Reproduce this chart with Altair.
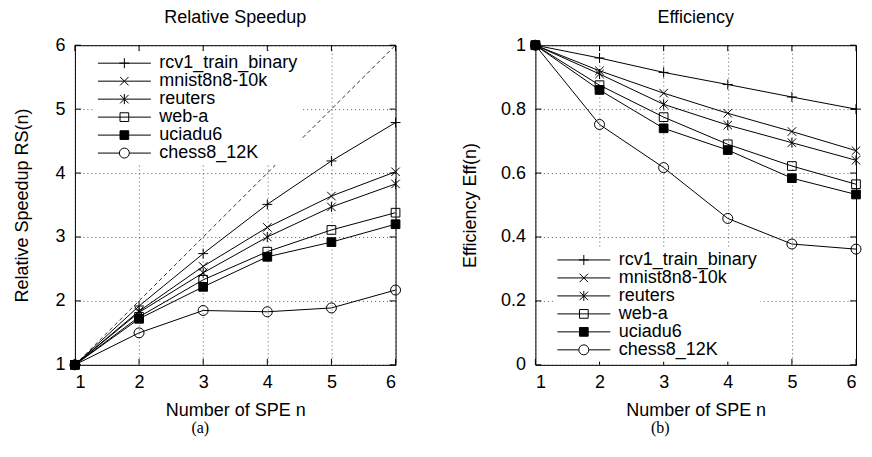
import altair as alt
import pandas as pd

n_spe = [1, 2, 3, 4, 5, 6]
series = ["rcv1_train_binary", "mnist8n8-10k", "reuters", "web-a", "uciadu6", "chess8_12K"]

# Relative speedup RS(n)
rs_rcv1 = [1.0, 1.92, 2.74, 3.51, 4.19, 4.79]
rs_mnist = [1.0, 1.84, 2.54, 3.15, 3.64, 4.02]
rs_reuters = [1.0, 1.82, 2.44, 3.00, 3.47, 3.83]
rs_weba = [1.0, 1.75, 2.33, 2.77, 3.11, 3.38]
rs_uciadu6 = [1.0, 1.72, 2.22, 2.69, 2.92, 3.20]
rs_chess = [1.0, 1.50, 1.85, 1.83, 1.89, 2.17]

# Efficiency Eff(n)
eff_rcv1 = [1.0, 0.96, 0.915, 0.877, 0.838, 0.80]
eff_mnist = [1.0, 0.92, 0.85, 0.787, 0.73, 0.67]
eff_reuters = [1.0, 0.91, 0.815, 0.75, 0.695, 0.64]
eff_weba = [1.0, 0.875, 0.775, 0.69, 0.622, 0.565]
eff_uciadu6 = [1.0, 0.86, 0.74, 0.672, 0.584, 0.533]
eff_chess = [1.0, 0.752, 0.617, 0.458, 0.378, 0.362]

ideal_x = [1, 6]
ideal_y = [1, 6]

rs_ticks = [1, 2, 3, 4, 5, 6]
eff_ticks = [0, 0.2, 0.4, 0.6, 0.8, 1.0]

FONT = "Liberation Sans"
W, H = 321, 320
TICK = 6


def long_df(arrays):
    rows = []
    for name, vals in zip(series, arrays):
        for n, v in zip(n_spe, vals):
            rows.append({"n": n, "value": v, "series": name})
    return pd.DataFrame(rows)


rs_df = long_df([rs_rcv1, rs_mnist, rs_reuters, rs_weba, rs_uciadu6, rs_chess])
eff_df = long_df([eff_rcv1, eff_mnist, eff_reuters, eff_weba, eff_uciadu6, eff_chess])
ideal_df = pd.DataFrame({"n": ideal_x, "value": ideal_y})

plus = "M-1,0H1M0,-1V1"
cross = "M-0.85,-0.85L0.85,0.85M-0.85,0.85L0.85,-0.85"
star = "M0,-1V1M-0.85,-0.85L0.85,0.85M-0.85,0.85L0.85,-0.85"
square = "M-0.87,-0.87H0.87V0.87H-0.87Z"
circle = "M-1,0A1,1,0,1,1,1,0A1,1,0,1,1,-1,0Z"
point_shapes = [plus, cross, star, square, square, circle]

line = "M-5.3,0H5.3"
legend_shapes = [
    line + plus,
    line + cross,
    line + star,
    line + square,
    line + square,
    "M-5.3,0H-1M1,0H5.3" + circle,
]
fills = ["transparent", "transparent", "transparent", "transparent", "black", "transparent"]
strokes = ["black"] * 6


def panel(df, ytitle, ydomain, yticks, yfmt, title_pad, title, caption, cap_dx, lx, ly, diag):
    x = alt.X("n:Q", scale=alt.Scale(domain=[1, 6], nice=False, zero=False),
              axis=alt.Axis(values=n_spe, format="d", title="Number of SPE n",
                            titlePadding=10, labelPadding=9))
    y = alt.Y("value:Q", scale=alt.Scale(domain=ydomain, nice=False, zero=False),
              axis=alt.Axis(values=yticks, format=yfmt, title=ytitle, titlePadding=title_pad,
                            labelPadding=10))
    base = alt.Chart(df)
    lines = base.mark_line(color="black", strokeWidth=1).encode(x=x, y=y, detail="series:N")
    pts = base.mark_point(size=100, strokeWidth=1, color="black", opacity=1).encode(
        x=x, y=y,
        shape=alt.Shape("series:N", scale=alt.Scale(domain=series, range=point_shapes), legend=None),
        fill=alt.Fill("series:N", scale=alt.Scale(domain=series, range=fills), legend=None),
    )
    leg = alt.Legend(
        title=None, orient="none", legendX=lx, legendY=ly,
        fillColor="white", padding=3,
        labelFont=FONT, labelFontSize=18, labelColor="black",
        symbolSize=100, symbolStrokeWidth=1, symbolStrokeColor="black",
        symbolOffset=18.5, labelOffset=26, rowPadding=0,
        labelLimit=300,
    )
    legend_layer = base.transform_filter("false").mark_point(
        size=100, strokeWidth=1, color="black", stroke="black", opacity=1).encode(
        x=x, y=y,
        shape=alt.Shape("series:N", scale=alt.Scale(domain=series, range=legend_shapes), legend=leg),
        fill=alt.Fill("series:N", scale=alt.Scale(domain=series, range=fills), legend=leg),
        stroke=alt.Stroke("series:N", scale=alt.Scale(domain=series, range=strokes), legend=leg),
    )
    xt = pd.DataFrame({"n": n_spe})
    yt = pd.DataFrame({"value": yticks})
    ticks = [
        alt.Chart(xt).mark_rule(color="black", strokeWidth=1).encode(x=x, y=alt.value(H), y2=alt.value(H - TICK)),
        alt.Chart(xt).mark_rule(color="black", strokeWidth=1).encode(x=x, y=alt.value(0), y2=alt.value(TICK)),
        alt.Chart(yt).mark_rule(color="black", strokeWidth=1).encode(y=y, x=alt.value(0), x2=alt.value(TICK)),
        alt.Chart(yt).mark_rule(color="black", strokeWidth=1).encode(y=y, x=alt.value(W), x2=alt.value(W - TICK)),
    ]
    layers = []
    if diag:
        layers.append(alt.Chart(ideal_df).mark_line(color="black", strokeWidth=0.8, strokeDash=[4, 3]).encode(x=x, y=y))
    layers += ticks + [lines, pts, legend_layer]
    ch = alt.layer(*layers).resolve_scale(shape="independent", fill="independent", stroke="independent").properties(
        width=W, height=H,
        title=alt.TitleParams(title, font=FONT, fontSize=18, fontWeight="normal", color="black", offset=9),
    )
    return alt.vconcat(ch, title=alt.TitleParams(caption, orient="bottom", anchor="middle", dx=cap_dx,
                                                  font="Liberation Serif", fontSize=16,
                                                  fontWeight="normal", color="black", offset=0))


left = panel(rs_df, "Relative Speedup RS(n)", [1, 6], rs_ticks, "d", 23, "Relative Speedup", "(a)", -8, 19, 6, True)
right = panel(eff_df, "Efficiency Eff(n)", [0, 1], eff_ticks, ".1~f", 21, "Efficiency", "(b)", -2, 18, 203, False)

chart = alt.hconcat(left, right, spacing=57).properties(
    padding={"left": 5, "top": 0, "right": 0, "bottom": 0}
).configure_view(stroke="black", strokeWidth=1).configure_axis(
    labelFont=FONT, labelFontSize=18, labelColor="black",
    titleFont=FONT, titleFontSize=18, titleFontWeight="normal", titleColor="black",
    grid=True, gridColor="black", gridDash=[1, 3], gridWidth=0.8, gridOpacity=0.8,
    domain=False, ticks=False,
)

chart.save("out.html", embed_options={"renderer": "svg", "actions": False})
